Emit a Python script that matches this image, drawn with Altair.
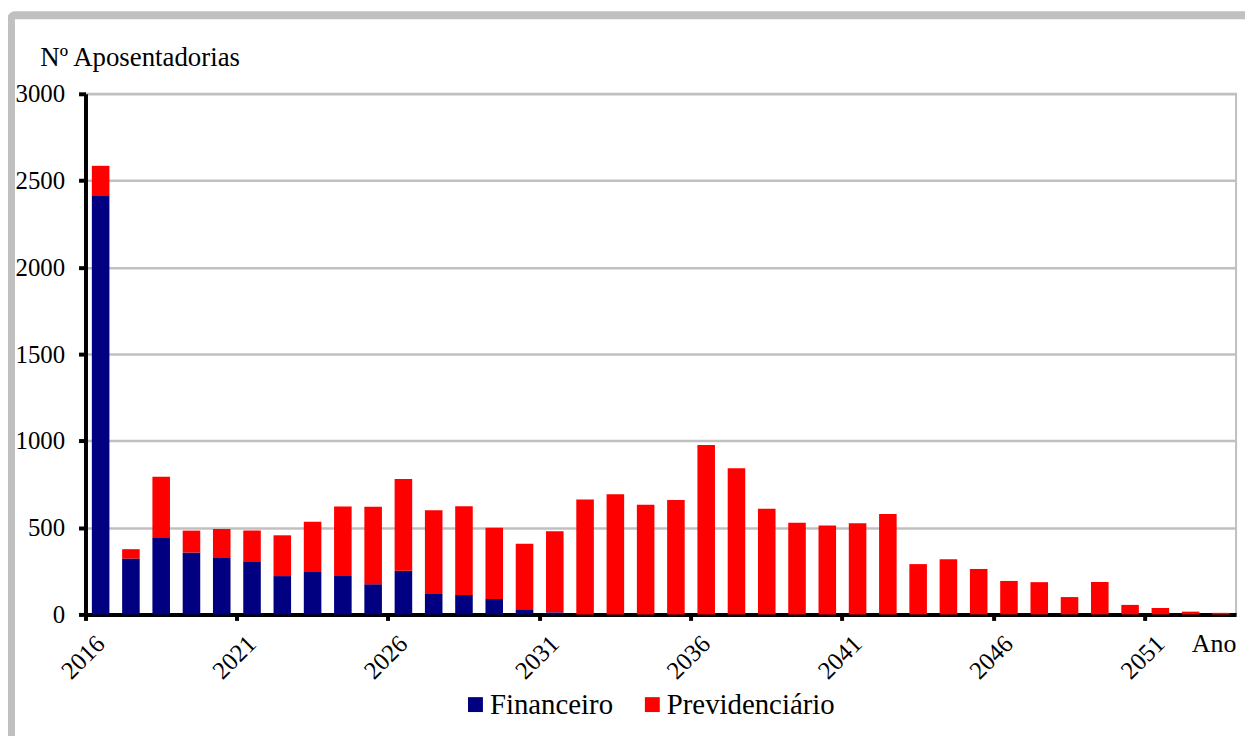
import altair as alt
import pandas as pd

years = list(range(2016, 2054))
financeiro = [2415, 322, 445, 357, 330, 307, 221, 244, 221, 174, 252, 122, 112, 89, 30, 12,
              0, 0, 0, 0, 0, 0, 0, 0, 0, 0, 0, 0, 0, 0, 0, 0, 0, 0, 0, 0, 0, 0]
previdenciario = [170, 54, 349, 126, 162, 176, 235, 290, 401, 446, 529, 479, 512, 411, 377, 467,
                  662, 693, 632, 659, 977, 842, 609, 529, 513, 525, 578, 290,
                  318, 262, 193, 186, 100, 187, 55, 37, 16, 9]
series = ["Financeiro", "Previdenciário"]
colors = ["#000080", "#FF0000"]
label_years = [2016, 2021, 2026, 2031, 2036, 2041, 2046, 2051]
y_ticks = [0, 500, 1000, 1500, 2000, 2500, 3000]

rows = []
for i, y in enumerate(years):
    rows.append({"Ano": y, "Regime": series[0], "Valor": financeiro[i], "ord": 0})
    rows.append({"Ano": y, "Regime": series[1], "Valor": previdenciario[i], "ord": 1})
df = pd.DataFrame(rows)

FONT = "Liberation Serif"
W, H = 1158, 524

bars = alt.Chart(df).mark_bar(width=alt.RelativeBandSize(0.58)).encode(
    x=alt.X("Ano:O",
            scale=alt.Scale(paddingInner=0, paddingOuter=0),
            axis=alt.Axis(values=label_years, bandPosition=0, labelAngle=-45,
                          labelAlign="right", labelBaseline="middle",
                          labelPadding=19,
                          labelFont=FONT, labelFontSize=25, labelColor="black",
                          domainColor="black", domainWidth=4, tickColor="black",
                          tickWidth=4, tickSize=6,
                          title="Ano", titleFont=FONT, titleFontSize=26,
                          titleFontWeight="normal", titleColor="black",
                          titleAngle=0, titleAlign="left", titleBaseline="alphabetic",
                          titleX=1113, titleY=37)),
    y=alt.Y("Valor:Q", stack="zero",
            scale=alt.Scale(domain=[0, 3000], nice=False),
            axis=alt.Axis(values=y_ticks, format="d",
                          labelFont=FONT, labelFontSize=25, labelColor="black",
                          labelPadding=14, domainColor="black", domainWidth=4,
                          tickColor="black", tickWidth=4, tickSize=7,
                          grid=True, gridColor="#c0c0c0", gridWidth=2.5,
                          title="Nº Aposentadorias", titleFont=FONT, titleFontSize=27,
                          titleFontWeight="normal", titleColor="black",
                          titleAngle=0, titleAlign="left", titleBaseline="alphabetic",
                          titleX=-46, titleY=-28.5)),
    color=alt.Color("Regime:N",
                    scale=alt.Scale(domain=series, range=colors),
                    legend=alt.Legend(orient="none", legendX=378, legendY=600,
                                      direction="horizontal", title=None,
                                      symbolType="square", symbolSize=225,
                                      symbolStrokeWidth=0, labelFont=FONT,
                                      labelFontSize=29, labelColor="black",
                                      labelLimit=0, labelOffset=0, columnPadding=24)),
    order=alt.Order("ord:Q", sort="ascending"),
)

frame = alt.Chart(pd.DataFrame({"a": [0]})).mark_rect(
    fill=None, stroke="#c0c0c0", strokeWidth=8, cornerRadius=4
).encode(
    x=alt.value(-75), x2=alt.value(W + 60),
    y=alt.value(-79), y2=alt.value(H + 200),
)

chart = alt.layer(frame, bars).properties(
    width=W, height=H,
    autosize=alt.AutoSizeParams(type="none"),
    padding={"left": 78, "top": 84, "right": 9, "bottom": 120},
    background="white",
).configure_view(stroke="#c0c0c0", strokeWidth=2)

chart.save("out.html", embed_options={"renderer": "svg", "actions": False})
